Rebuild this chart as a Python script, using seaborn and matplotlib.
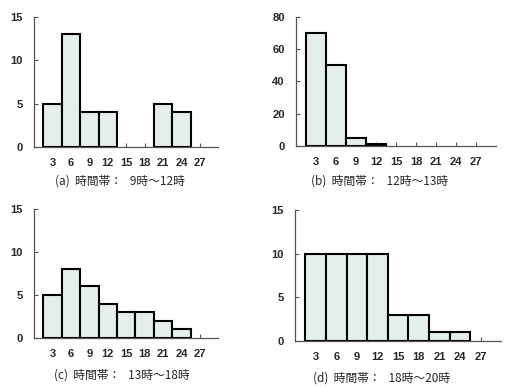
import numpy as np
import pandas as pd
import seaborn as sns
import matplotlib.pyplot as plt

sns.set_style("ticks")
plt.rcParams['font.family'] = ['Noto Sans CJK JP', 'DejaVu Sans']

bins = [3, 6, 9, 12, 15, 18, 21, 24, 27]

counts_a = [5, 13, 4, 4, 0, 0, 5, 4, 0]
counts_b = [70, 50, 5, 1, 0, 0, 0, 0, 0]
counts_c = [5, 8, 6, 4, 3, 3, 2, 1, 0]
counts_d = [10, 10, 10, 10, 3, 3, 1, 1, 0]

captions = ["(a)  時間帯：   9時～12時",
            "(b)  時間帯：   12時～13時",
            "(c)  時間帯：   13時～18時",
            "(d)  時間帯：   18時～20時"]

yticks_a = [0, 5, 10, 15]
yticks_b = [0, 20, 40, 60, 80]

fig = plt.figure(figsize=(5.09, 3.89), dpi=100)

# [left, bottom, width, height] for each panel, caption position
panels = [
    (counts_a, yticks_a, [0.067, 0.622, 0.362, 0.334], (0.236, 0.535)),
    (counts_b, yticks_b, [0.5815, 0.625, 0.393, 0.331], (0.745, 0.535)),
    (counts_c, yticks_a, [0.067, 0.131, 0.362, 0.332], (0.240, 0.036)),
    (counts_d, yticks_a, [0.5796, 0.123, 0.405, 0.337], (0.750, 0.028)),
]

for (vals, yt, rect, cap_pos), cap in zip(panels, captions):
    ax = fig.add_axes(rect)
    df = pd.DataFrame({"bin": [str(b) for b in bins], "count": vals})
    sns.barplot(data=df, x="bin", y="count", ax=ax, width=1.0,
                color="#e4eeed", saturation=1, edgecolor="black", linewidth=1.5)
    for p in ax.patches:
        if p.get_height() == 0:
            p.set_visible(False)
    ax.set_xlim(-1, len(bins))
    ax.set_ylim(0, yt[-1])
    ax.set_yticks(yt)
    ax.set_xlabel("")
    ax.set_ylabel("")
    sns.despine(ax=ax)
    for s in ["left", "bottom"]:
        ax.spines[s].set_color("#555555")
        ax.spines[s].set_linewidth(0.9)
    ax.tick_params(direction="in", length=3, width=0.8, color="#555555",
                   labelsize=8, pad=8)
    for lab in ax.get_xticklabels() + ax.get_yticklabels():
        lab.set_fontweight("bold")
        lab.set_family("Liberation Sans")
    fig.text(cap_pos[0], cap_pos[1], cap, ha="center", va="center", fontsize=8.5)

plt.savefig("out.png", dpi=100)
